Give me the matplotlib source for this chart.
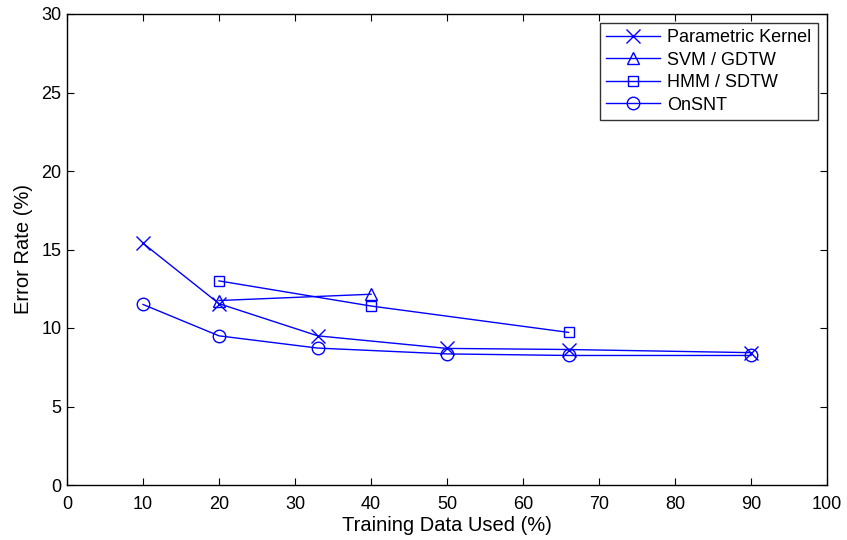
import matplotlib
matplotlib.use('Agg')
import matplotlib.pyplot as plt

plt.rcParams['font.family'] = ['Liberation Sans', 'DejaVu Sans']

# error rates (%) vs fraction of training data used (%)
x_pk = [10, 20, 33, 50, 66, 90]
err_pk = [15.4, 11.55, 9.5, 8.7, 8.63, 8.43]

x_svm = [20, 40]
err_svm = [11.75, 12.15]

x_hmm = [20, 40, 66]
err_hmm = [13.0, 11.4, 9.72]

x_onsnt = [10, 20, 33, 50, 66, 90]
err_onsnt = [11.5, 9.5, 8.72, 8.35, 8.25, 8.25]

blue = (0, 0, 1)

fig = plt.figure(figsize=(8.47, 5.4), dpi=100)
ax = fig.add_axes([67/847, 55/540, 760/847, 471/540])

ax.plot(x_pk, err_pk, color=blue, lw=1, marker='x', ms=10, mew=1, label='Parametric Kernel')
ax.plot(x_svm, err_svm, color=blue, lw=1, marker='^', ms=9, mew=1, mfc='none', label='SVM / GDTW')
ax.plot(x_hmm, err_hmm, color=blue, lw=1, marker='s', ms=7, mew=1, mfc='none', label='HMM / SDTW')
ax.plot(x_onsnt, err_onsnt, color=blue, lw=1, marker='o', ms=9, mew=1, mfc='none', label='OnSNT')

ax.set_xlim(0, 100)
ax.set_ylim(0, 30)
ax.set_xticks(range(0, 101, 10))
ax.set_yticks(range(0, 31, 5))
ax.tick_params(direction='in', length=5, labelsize=13, top=True, right=True, width=0.8)
ax.tick_params(axis='x', pad=8)
ax.tick_params(axis='y', pad=4)
for s in ax.spines.values():
    s.set_linewidth(1)
ax.set_xlabel('Training Data Used (%)', fontsize=14.5, labelpad=2)
ax.set_ylabel('Error Rate (%)', fontsize=14.5, labelpad=6)

leg = ax.legend(loc='upper right', fontsize=13, fancybox=False, edgecolor='k',
                borderaxespad=0.5, handlelength=3.0, labelspacing=0.3, borderpad=0.35,
                handletextpad=0.4)
leg.get_frame().set_linewidth(1)

fig.savefig('out.png', dpi=100)
